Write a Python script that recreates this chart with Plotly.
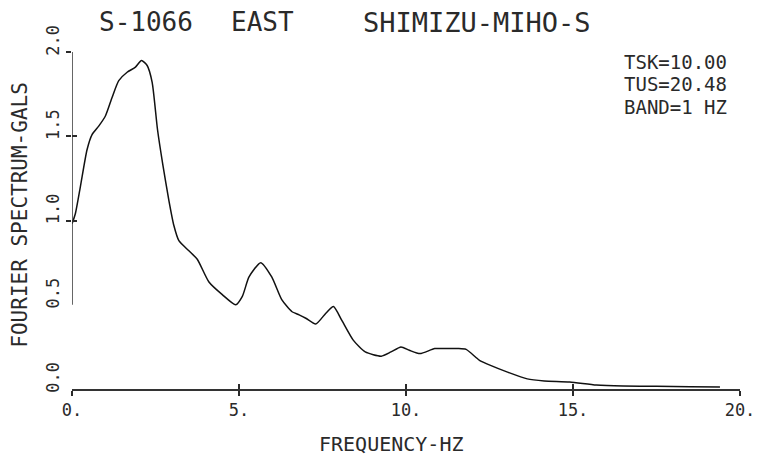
import plotly.graph_objects as go

# Fourier spectrum (frequency in Hz, amplitude in gals)
freq = [0.0, 0.1, 0.25, 0.45, 0.6, 0.8, 1.0, 1.2, 1.4, 1.65, 1.9, 2.08, 2.25,
        2.4, 2.56, 2.72, 2.9, 3.05, 3.2, 3.5, 3.75, 4.1, 4.5, 4.9, 5.1, 5.3,
        5.65, 5.98, 6.28, 6.58, 6.8, 7.0, 7.3, 7.6, 7.83, 8.07, 8.42, 8.78,
        9.26, 9.55, 9.85, 10.1, 10.42, 10.86, 11.2, 11.55, 11.8, 12.08, 12.2,
        12.53, 13.04, 13.63, 14.14, 14.9, 15.7, 16.5, 17.5, 18.5, 19.4]
amp = [0.98, 1.04, 1.20, 1.42, 1.51, 1.56, 1.62, 1.73, 1.83, 1.88, 1.91, 1.95,
       1.92, 1.82, 1.54, 1.33, 1.12, 0.97, 0.88, 0.82, 0.77, 0.635, 0.56, 0.50,
       0.55, 0.665, 0.75, 0.665, 0.53, 0.46, 0.44, 0.42, 0.386, 0.45, 0.49,
       0.41, 0.29, 0.22, 0.195, 0.22, 0.25, 0.23, 0.21, 0.24, 0.24, 0.24,
       0.235, 0.19, 0.17, 0.14, 0.10, 0.06, 0.048, 0.042, 0.024, 0.018, 0.016,
       0.014, 0.012]

x_ticks = [0, 5, 10, 15, 20]
x_ticktext = ["0.", "5.", "10.", "15.", "20."]
y_ticks = [0, 0.5, 1.0, 1.5, 2.0]
y_ticktext = ["0.0", "0.5", "1.0", "1.5", "2.0"]
y_marks = [1.0, 1.5, 2.0]

FONT = "DejaVu Sans Mono"
INK = "#2a2a2a"

fig = go.Figure()
fig.add_trace(go.Scatter(x=freq, y=amp, mode="lines",
                         line=dict(color="#111", width=1.5, shape="spline", smoothing=0.6),
                         showlegend=False, hoverinfo="skip"))
# empty traces so the overlay axes (crossing tick marks) get drawn
fig.add_trace(go.Scatter(x=[], y=[], xaxis="x2", yaxis="y2", showlegend=False))
fig.add_trace(go.Scatter(x=[], y=[], xaxis="x", yaxis="y3", showlegend=False))

no_grid = dict(showgrid=False, zeroline=False)

fig.update_layout(
    width=767, height=458,
    margin=dict(l=72, r=23, t=52, b=69),
    paper_bgcolor="white", plot_bgcolor="white",
    showlegend=False, hovermode=False,
    xaxis=dict(range=[0, 20], tickmode="array", tickvals=x_ticks, ticktext=x_ticktext,
               ticks="outside", ticklen=5, tickwidth=1.5, tickcolor=INK,
               showline=True, linecolor="#333", linewidth=1.5,
               tickfont=dict(family=FONT, size=17, color=INK), **no_grid),
    xaxis2=dict(overlaying="x", matches="x", anchor="y2", side="bottom",
                tickmode="array", tickvals=x_ticks, ticks="inside", ticklen=5,
                tickwidth=1.5, tickcolor=INK, showticklabels=False, showline=False, **no_grid),
    yaxis=dict(range=[0, 2], tickmode="array", tickvals=y_ticks, ticktext=y_ticktext,
               ticks="", tickangle=-90, ticklabelshift=-9, ticklabelstandoff=9,
               showline=False, tickfont=dict(family=FONT, size=17, color=INK), **no_grid),
    yaxis2=dict(overlaying="y", matches="y", anchor="x2", side="left",
                tickmode="array", tickvals=y_marks, ticks="outside", ticklen=5,
                tickwidth=1.5, tickcolor=INK, showticklabels=False, showline=False, **no_grid),
    yaxis3=dict(overlaying="y", matches="y", anchor="x", side="left",
                tickmode="array", tickvals=y_marks, ticks="inside", ticklen=5,
                tickwidth=1.5, tickcolor=INK, showticklabels=False, showline=False, **no_grid),
)

# y axis line only runs from 0.5 up to 2.0 in the original plot
fig.add_shape(type="line", xref="x", yref="y", x0=0, x1=0, y0=0.5, y1=2.0,
              line=dict(color="#333", width=1.5))

def label(text, x, y, size, angle=0, anchor="left"):
    fig.add_annotation(text=text, xref="paper", yref="paper", x=x, y=y,
                       xanchor=anchor, yanchor="middle", showarrow=False,
                       textangle=angle, font=dict(family=FONT, size=size, color=INK))

label("S-1066", 0.037, 1.089, 26)
label("EAST", 0.235, 1.089, 26)
label("SHIMIZU-MIHO-S", 0.433, 1.089, 27)
label("TSK=10.00", 0.823, 0.970, 19)
label("TUS=20.48", 0.823, 0.905, 19)
label("BAND=1 HZ", 0.823, 0.837, 19)
label("FREQUENCY-HZ", 0.478, -0.163, 20, anchor="center")
label("FOURIER SPECTRUM-GALS", -0.077, 0.516, 21, angle=-90, anchor="center")

# drop the default 8px page margin so the figure sits at the window corner
fig.write_html("out.html", config={"displayModeBar": False},
               post_script="document.body.style.margin='0';")
